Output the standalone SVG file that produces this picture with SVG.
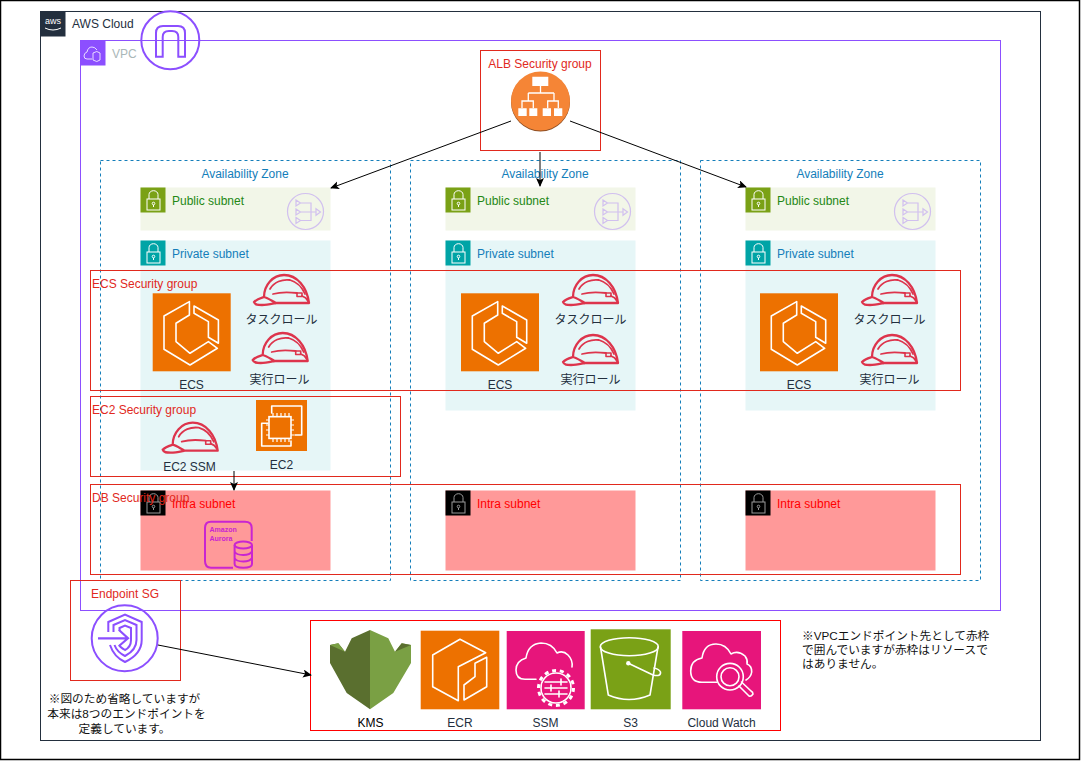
<svg xmlns="http://www.w3.org/2000/svg" width="1081" height="761" viewBox="0 0 1081 761">
<style>
text{font-family:"Liberation Sans","Noto Sans CJK JP",sans-serif;font-size:12px;fill:#232f3e}
.sg{fill:none;stroke:#e1291d;stroke-width:1}
.sgt{fill:#e1291d}
.az{fill:none;stroke:#147eba;stroke-width:1;stroke-dasharray:3 3}
.azt{fill:#147eba;text-anchor:middle}
.c{text-anchor:middle}
.pub{fill:#f2f6e8}.pubh{fill:#7aa116}.pubt{fill:#248814}
.pri{fill:#e6f6f7}.prih{fill:#00a4a6}.prit{fill:#147eba}
.int{fill:#ff9999}.intt{fill:#ff0000}
.w{fill:none;stroke:#fff;stroke-width:1.6;stroke-linejoin:round;stroke-linecap:round}
.lk{fill:none;stroke:#fff;stroke-width:1}
.au{fill:none;stroke:#c925d1;stroke-width:2}
.aut{font-size:7px;font-weight:bold;fill:#c925d1}
.note{font-size:11.7px;fill:#111}
.conn{fill:none;stroke:#000;stroke-width:1;marker-end:url(#ah)}
</style>
<defs>
<marker id="ah" markerWidth="10" markerHeight="10" refX="8" refY="4" orient="auto" markerUnits="userSpaceOnUse"><path d="M0 0L9 4L0 8L2 4Z" fill="#000"/></marker>
<g id="lock"><rect x="7" y="12" width="13" height="11" class="lk"/><path d="M9 12V7.500a4.500 3.800 0 0 1 9 0V12" class="lk"/><circle cx="13.500" cy="16.500" r="1.300" class="lk"/><path d="M13.500 18V20" class="lk"/></g>
<g id="helmet" fill="none" stroke="#dd344c" stroke-width="2.300" stroke-linejoin="round" stroke-linecap="round"><path d="M1 28C4 25 8 24 11 23C11 11 20 1 31 1C44 1 54 13 56 29H23C19 27 15 24 11 23M1 28C2 31 5 31 9 31C14 31 18 30 23 29"/><path d="M20 20C27 18 36 18 44 19M17 15C21 8 29 5 37 6C44 8 49 13 52 20M49 22C52 23 54 25 55 27" stroke-width="1.800"/><rect x="44" y="19" width="5" height="3.500" stroke-width="1.600"/></g>
<g id="nat" fill="none" stroke="#8c4fff" stroke-opacity=".32" stroke-width="1.200"><circle cx="18.500" cy="18.500" r="18"/><path d="M9 7L13.500 10L9 13ZM9 16L13.500 19L9 22ZM9 24.500L13.500 27.500L9 30.500ZM13.500 10H24V27.500H13.500M13.500 19H29M29 15.700L33.500 19L29 22.300Z"/></g>
<g id="ecs"><rect width="78" height="78" fill="#ed7100"/><path class="w" d="M36.700 8.300L11.300 22.700V56L37.300 71.700L64.700 55L55.700 48.300L37.300 60L23.300 48.300V30L36.700 21.700ZM41.300 12.700L65.700 26.700V50L55.700 44V28.300L41.300 20Z"/></g>
</defs>
<rect width="1081" height="761" fill="#fff"/>
<rect x="0.500" y="0.500" width="1079" height="759" fill="none" stroke="#000" stroke-width="1.500"/>

<g id="aws-cloud"><rect x="40.500" y="11.500" width="1000" height="729" fill="none" stroke="#232f3e"/><rect x="40.500" y="11.500" width="25" height="25" fill="#232f3e"/><text x="53" y="24" style="font-size:9px;fill:#fff" class="c">aws</text><path d="M45 28Q53 32 61 28" stroke="#fff" fill="none"/><text x="72" y="28">AWS Cloud</text></g>
<g id="vpc"><rect x="80.500" y="40.500" width="920" height="570" fill="none" stroke="#8c4fff"/><rect x="80.500" y="40.500" width="25" height="25" fill="#8c4fff"/><path d="M92 59H87Q84 59 84 56Q84 53 87 52Q88 47 92 47Q95 47 97 50M93 53Q97 50 100 53V60Q97 63 93 60Z" fill="none" stroke="#fff" stroke-width=".8"/><text x="112" y="58" style="fill:#aab7b8">VPC</text></g>
<g id="igw" fill="none" stroke="#8c4fff" stroke-width="2"><circle cx="170.300" cy="40.300" r="29"/><path d="M156 56.700V33Q156 26 163 26H178Q185 26 185 33V56.700H178.300V37Q178.300 31 172 31H169Q162.700 31 162.700 37V56.700Z"/></g>

<g id="az-1"><rect x="100.500" y="160.500" width="290" height="420" class="az"/><text x="245" y="178" class="azt">Availability Zone</text></g>
<g id="az-2"><rect x="410.500" y="160.500" width="270" height="420" class="az"/><text x="545" y="178" class="azt">Availability Zone</text></g>
<g id="az-3"><rect x="700.500" y="160.500" width="280" height="420" class="az"/><text x="840" y="178" class="azt">Availability Zone</text></g>

<g id="public-1"><rect x="140.500" y="187.500" width="190" height="43" class="pub"/><rect x="140.500" y="187.500" width="25" height="25" class="pubh"/><use href="#lock" x="140" y="187"/><text x="172" y="205" class="pubt">Public subnet</text><use href="#nat" x="287" y="193"/></g>
<g id="public-2"><rect x="445.500" y="187.500" width="190" height="43" class="pub"/><rect x="445.500" y="187.500" width="25" height="25" class="pubh"/><use href="#lock" x="445" y="187"/><text x="477" y="205" class="pubt">Public subnet</text><use href="#nat" x="594" y="193"/></g>
<g id="public-3"><rect x="745.500" y="187.500" width="190" height="43" class="pub"/><rect x="745.500" y="187.500" width="25" height="25" class="pubh"/><use href="#lock" x="745" y="187"/><text x="777" y="205" class="pubt">Public subnet</text><use href="#nat" x="894" y="193"/></g>

<g id="private-1"><rect x="140.500" y="240.500" width="190" height="230" class="pri"/><rect x="140.500" y="240.500" width="25" height="25" class="prih"/><use href="#lock" x="140" y="240"/><text x="172" y="258" class="prit">Private subnet</text></g>
<g id="private-2"><rect x="445.500" y="240.500" width="190" height="170" class="pri"/><rect x="445.500" y="240.500" width="25" height="25" class="prih"/><use href="#lock" x="445" y="240"/><text x="477" y="258" class="prit">Private subnet</text></g>
<g id="private-3"><rect x="745.500" y="240.500" width="190" height="170" class="pri"/><rect x="745.500" y="240.500" width="25" height="25" class="prih"/><use href="#lock" x="745" y="240"/><text x="777" y="258" class="prit">Private subnet</text></g>

<g id="intra-1"><rect x="140.500" y="490.500" width="190" height="80" class="int"/><rect x="140.500" y="490.500" width="25" height="25" fill="#000"/><use href="#lock" x="140" y="490" opacity=".6"/><text x="172" y="508" class="intt">Intra subnet</text></g>
<g id="intra-2"><rect x="445.500" y="490.500" width="190" height="80" class="int"/><rect x="445.500" y="490.500" width="25" height="25" fill="#000"/><use href="#lock" x="445" y="490" opacity=".6"/><text x="477" y="508" class="intt">Intra subnet</text></g>
<g id="intra-3"><rect x="745.500" y="490.500" width="190" height="80" class="int"/><rect x="745.500" y="490.500" width="25" height="25" fill="#000"/><use href="#lock" x="745" y="490" opacity=".6"/><text x="777" y="508" class="intt">Intra subnet</text></g>

<g id="ecs-1"><use href="#ecs" x="152.700" y="293.300"/><text x="191.500" y="389" class="c">ECS</text></g>
<g id="ecs-2"><use href="#ecs" x="461" y="293.300"/><text x="500" y="389" class="c">ECS</text></g>
<g id="ecs-3"><use href="#ecs" x="760" y="293.300"/><text x="799" y="389" class="c">ECS</text></g>
<g id="task-role-1"><use href="#helmet" x="253" y="274"/><text x="281.500" y="324" class="c">タスクロール</text></g>
<g id="exec-role-1"><use href="#helmet" x="251.700" y="332"/><text x="279.500" y="384" class="c">実行ロール</text></g>
<g id="task-role-2"><use href="#helmet" x="562" y="274"/><text x="590.500" y="324" class="c">タスクロール</text></g>
<g id="exec-role-2"><use href="#helmet" x="562" y="334"/><text x="590.500" y="384" class="c">実行ロール</text></g>
<g id="task-role-3"><use href="#helmet" x="861" y="274"/><text x="889.500" y="324" class="c">タスクロール</text></g>
<g id="exec-role-3"><use href="#helmet" x="861" y="334"/><text x="889.500" y="384" class="c">実行ロール</text></g>
<g id="ec2-ssm"><use href="#helmet" x="161.700" y="421.700"/><text x="189.500" y="471" class="c">EC2 SSM</text></g>
<g id="ec2"><rect x="256" y="400" width="51" height="51" fill="#ed7100"/><path class="w" d="M271.700 413V406H301.700V435H295M268 423.300H261.700V446H291V441"/><rect x="269" y="416.700" width="22" height="21.700" fill="#ed7100" stroke="#fff" stroke-width="1.600"/><path d="M273 413V416M277 413V416M281 413V416M285 413V416M289 413V416M273 439V442M277 439V442M281 439V442M285 439V442M289 439V442M266 420H269M266 425H269M266 430H269M266 435H269M291 420H294M291 425H294M291 430H294M291 435H294" stroke="#fff" stroke-width="1.200"/><text x="281.500" y="469" class="c">EC2</text></g>
<g id="aurora"><path class="au" d="M233 567.700H211Q205 567.700 205 561V528Q205 521.700 211 521.700H245Q251.700 521.700 251.700 528V541"/><ellipse cx="243.300" cy="545" rx="8.700" ry="3.500" class="au"/><path class="au" d="M234.600 545V564Q234.600 567.700 243.300 567.700Q252 567.700 252 564V545M234.600 551.500Q236 555 243.300 555Q250 555 252 551.500M234.600 558Q236 561.500 243.300 561.500Q250 561.500 252 558"/><text x="209.500" y="531.500" class="aut">Amazon</text><text x="209.500" y="540.500" class="aut">Aurora</text></g>

<g id="alb"><circle cx="540.500" cy="102" r="29.500" fill="#8c4d22"/><circle cx="540.500" cy="101" r="29.500" fill="#f58536"/><path d="M532.300 76.700H548.300V86H532.300ZM518.300 108.300H526.700V116H518.300ZM529.300 108.300H537.300V116H529.300ZM542.700 108.300H551V116H542.700ZM554 108.300H562.300V116H554Z" fill="#fff"/><path d="M540.500 86V93M528.300 93H554M528.300 93V101M554 93V101M522 108V101H533.300V108M547.700 108V101H558.300V108" fill="none" stroke="#fff" stroke-width="1.300"/></g>

<g id="sg-alb"><rect x="480.500" y="50.500" width="120" height="100" class="sg"/><text x="540" y="68" class="sgt c">ALB Security group</text></g>
<g id="sg-ecs"><rect x="90.500" y="270.500" width="870" height="120" class="sg"/><text x="92" y="288" class="sgt">ECS Security group</text></g>
<g id="sg-ec2"><rect x="90.500" y="396.500" width="310" height="80" class="sg"/><text x="92" y="414" class="sgt">EC2 Security group</text></g>
<g id="sg-db"><rect x="90.500" y="484.500" width="870" height="90" class="sg"/><text x="92" y="502" class="sgt">DB Security group</text></g>
<g id="sg-endpoint"><rect x="70.500" y="580.500" width="110" height="100" class="sg"/><text x="125" y="598" class="sgt c">Endpoint SG</text></g>

<g id="endpoint" fill="none" stroke="#8c4fff" stroke-width="2"><circle cx="124.700" cy="638.300" r="33"/><path d="M108.300 632V622L125 614.500L141.700 622V640Q141.700 654 125 662Q114 657 110 645M113.500 632V625L125 620L136.500 625V640Q136.500 650 125 656Q117 652 114.500 645M119.500 631V628L125 625.500L131 628V640Q131 647 125 650Q120 647 119 645"/><path d="M98 638.300H128M119 630L128 638.300L119 646" stroke-width="2.200"/></g>

<g id="services"><rect x="310.500" y="620.500" width="470" height="110" fill="none" stroke="#ff0000"/></g>
<g id="kms"><path d="M370 630L351.700 638.300L345 651.700L338.300 643.300L330 645V663L346.700 693L370 709.300Z" fill="#5a6f2f"/><path d="M370 630L388.300 638.300L395 651.700L401.700 643.300L411 645V663L393.300 693L370 709.300Z" fill="#7aa044"/><path d="M330 645L338.300 643.300L345 651.700Z" fill="#7aa044"/><path d="M395 651.700L401.700 643.300L411 645Z" fill="#5a6f2f"/><text x="370.500" y="727" class="c" style="fill:#000">KMS</text></g>
<g id="ecr"><rect x="420.700" y="630.700" width="78.600" height="78.600" fill="#ed7100"/><path class="w" d="M432.700 655L460 639.300L485.700 652.700L458.300 666.700V700.700L432.700 686.700ZM464 700L486.700 686.700V657.300L475 663.300V676.700L464 685Z"/><text x="460" y="727" class="c">ECR</text></g>
<g id="ssm"><rect x="506.700" y="631" width="78" height="78.300" fill="#e7157b"/><path class="w" d="M536 679.300H525Q516 679.300 516 670Q516 661 526 658Q528 644 541 643Q552 643 557 653Q563 650 568 655Q573 660 572 667"/><circle cx="556" cy="688" r="15" fill="#e7157b" stroke="#fff" stroke-width="1.600"/><circle cx="556" cy="688" r="17.500" fill="none" stroke="#fff" stroke-width="3" stroke-dasharray="4 3.800"/><circle cx="556" cy="688" r="14" fill="#e7157b"/><path class="w" d="M545 682H567M545 688H567M545 694H567M561 679V685M551 685V691M559 691V697"/><text x="545.500" y="727" class="c">SSM</text></g>
<g id="s3"><rect x="590.700" y="629.300" width="80" height="80" fill="#7aa116"/><path class="w" d="M600.500 647L608.300 695Q629 704 650 695L658 647"/><ellipse cx="629.300" cy="646.700" rx="29" ry="9" class="w"/><circle cx="628.300" cy="663.300" r="2.200" fill="#fff"/><path class="w" d="M628.300 663.300L653 675Q661 677 660.500 672Q659 669 654 668"/><text x="630.500" y="727" class="c">S3</text></g>
<g id="cloudwatch"><rect x="682.300" y="631" width="78.700" height="78.300" fill="#e7157b"/><path class="w" d="M716.700 682.300H702Q690.700 682.300 690.700 671Q690.700 660 702 658Q704 644 716 644Q726 644 731 654Q738 650 745 656Q748 660 747 664Q752 666 751.700 672Q751 677 746 680"/><circle cx="730" cy="676.700" r="13.300" class="w"/><circle cx="730" cy="676.700" r="9" class="w"/><path class="w" d="M739 686L749 696Q751 697 753 694Q753 692 751 691L741.500 682"/><text x="721.500" y="727" class="c">Cloud Watch</text></g>

<g id="connectors">
<path class="conn" d="M511 121L331 188"/>
<path class="conn" d="M540 152V186"/>
<path class="conn" d="M570 121L746 187"/>
<path class="conn" d="M234 471V490"/>
<path class="conn" d="M158 645L311 675"/>
</g>

<g id="notes">
<text x="124.500" y="703" class="c note">※図のため省略していますが</text>
<text x="126.500" y="718" class="c note">本来は8つのエンドポイントを</text>
<text x="124.500" y="733" class="c note">定義しています。</text>
<text x="802" y="640" class="note">※VPCエンドポイント先として赤枠</text>
<text x="802" y="654" class="note">で囲んでいますが赤枠はリソースで</text>
<text x="802" y="668" class="note">はありません。</text>
</g>
</svg>
